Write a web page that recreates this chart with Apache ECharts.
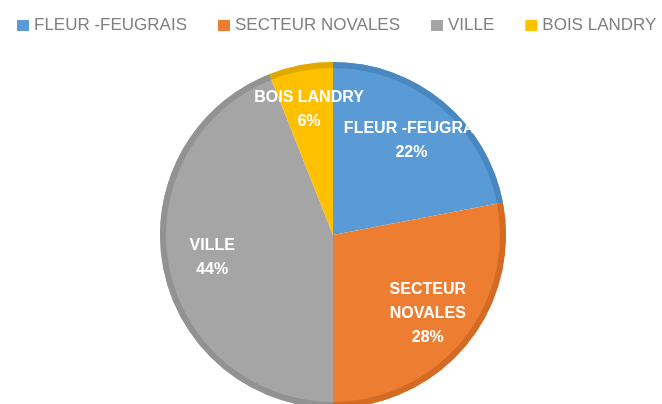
<!DOCTYPE html>
<html>
<head>
<meta charset="utf-8">
<script src="https://cdn.jsdelivr.net/npm/echarts@6/dist/echarts.min.js"></script>
<style>
  html, body { margin: 0; padding: 0; background: #fff; }
  #main { width: 662px; height: 404px; }
</style>
</head>
<body>
<div id="main"></div>
<script>
// secteurs et parts (%)
var secteurs = ['FLEUR -FEUGRAIS', 'SECTEUR NOVALES', 'VILLE', 'BOIS LANDRY'];
var parts = [22, 28, 44, 6];
var couleurs = ['#5b9bd5', '#ed7d31', '#a5a5a5', '#ffc000'];
var bords = ['#4a87c0', '#d36b25', '#929292', '#e0a800'];

var chart = echarts.init(document.getElementById('main'));

function donnees(cols) {
  return secteurs.map(function (s, i) {
    return { name: s, value: parts[i], itemStyle: { color: cols[i] } };
  });
}

var centre = [333, 235];
var rayon = 173;

var styleEtiq = {
  color: '#ffffff',
  fontFamily: 'Liberation Sans',
  fontWeight: 'bold',
  fontSize: 16,
  lineHeight: 24
};

// la petite part (BOIS LANDRY) : pie masque l'étiquette trop large, on la place nous-mêmes
var total = parts.reduce(function (a, b) { return a + b; }, 0);
var avant = parts.slice(0, 3).reduce(function (a, b) { return a + b; }, 0);
var angMid = (avant + parts[3] / 2) / total * 2 * Math.PI;
var rEtiq = 128;
var etiqBois = {
  type: 'text',
  z: 100,
  x: centre[0] + rEtiq * Math.sin(angMid),
  y: centre[1] - rEtiq * Math.cos(angMid),
  silent: true,
  style: {
    text: secteurs[3] + '\n' + Math.round(parts[3] / total * 100) + '%',
    fill: '#ffffff',
    align: 'center',
    verticalAlign: 'middle',
    lineHeight: 24,
    font: 'bold 16px "Liberation Sans"'
  }
};

chart.setOption({
  animation: false,
  legend: {
    data: secteurs,
    left: 12,
    top: 12,
    icon: 'rect',
    itemWidth: 12,
    itemHeight: 11,
    itemGap: 31,
    textStyle: { fontFamily: 'Liberation Sans', fontSize: 17, color: '#808080' }
  },
  graphic: [etiqBois],
  series: [
    {
      type: 'pie',
      center: centre,
      radius: [0, rayon],
      startAngle: 90,
      silent: true,
      label: { show: false },
      labelLine: { show: false },
      data: donnees(couleurs)
    },
    {
      // liseré plus sombre au bord
      type: 'pie',
      center: centre,
      radius: [rayon - 6, rayon],
      startAngle: 90,
      silent: true,
      label: { show: false },
      labelLine: { show: false },
      data: donnees(bords)
    },
    {
      // étiquettes
      type: 'pie',
      center: centre,
      radius: [68, 172],
      startAngle: 90,
      silent: true,
      avoidLabelOverlap: false,
      itemStyle: { color: 'transparent' },
      label: Object.assign({
        show: true,
        position: 'inside',
        formatter: '{b}\n{d}%',
        width: 140,
        overflow: 'truncate',
        ellipsis: ''
      }, styleEtiq),
      labelLine: { show: false },
      data: secteurs.map(function (s, i) {
        var lab = {};
        if (s === 'SECTEUR NOVALES') lab = { formatter: 'SECTEUR\nNOVALES\n{d}%' };
        if (s === 'BOIS LANDRY') lab = { show: false };
        return { name: s, value: parts[i], label: lab };
      })
    }
  ]
});
</script>
</body>
</html>
